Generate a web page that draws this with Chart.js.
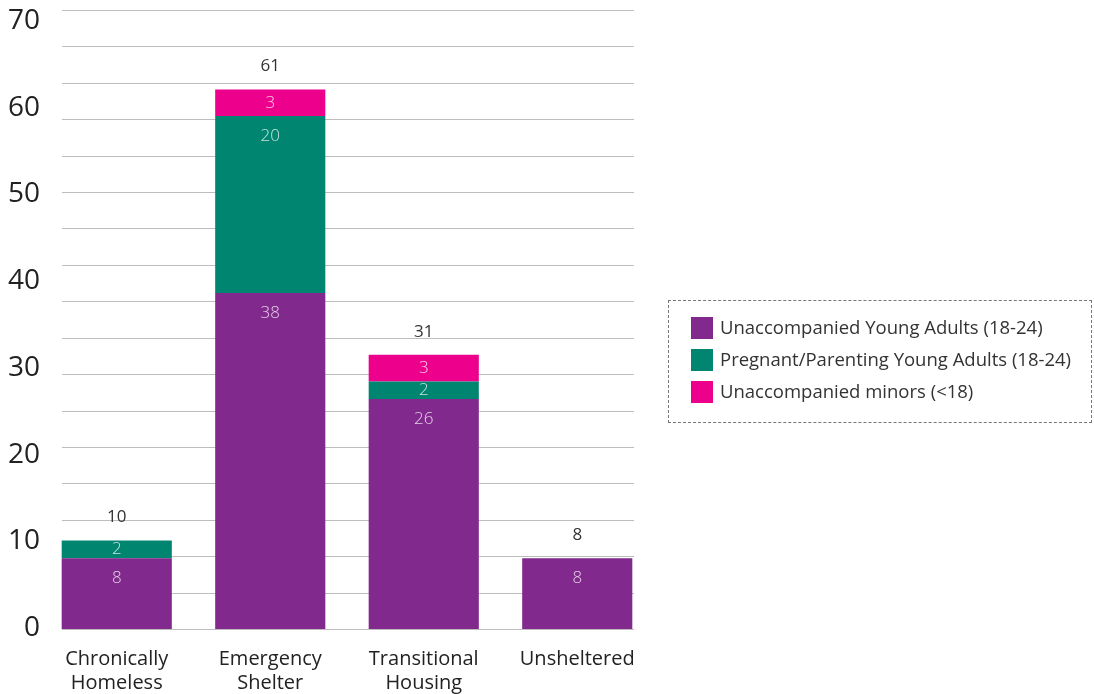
<!DOCTYPE html>
<html>
<head>
<meta charset="utf-8">
<script src="https://cdn.jsdelivr.net/npm/chart.js@4/dist/chart.umd.min.js"></script>
<style>
  html, body { margin: 0; padding: 0; background: #fff; }
  #wrap { position: relative; width: 1094px; height: 694px; }
  #legend {
    position: absolute; left: 668px; top: 300px; width: 422px; height: 121px;
    border: 1px dashed #777; box-sizing: content-box;
    font-family: "Open Sans", Lato, sans-serif; font-size: 18.5px; color: #333;
  }
  .item { position: absolute; left: 22px; height: 24px; line-height: 24px; white-space: nowrap; }
  .item span { display: inline-block; width: 22px; height: 22px; vertical-align: middle; margin-right: 7px; position: relative; top: -1px; }
</style>
</head>
<body>
<div id="wrap">
  <canvas id="chart" width="1094" height="694"></canvas>
  <div id="legend"></div>
</div>
<script>
// Data
const categories = [['Chronically', 'Homeless'], ['Emergency', 'Shelter'], ['Transitional', 'Housing'], ['Unsheltered']];
const youngAdults = [8, 38, 26, 8];
const parenting = [2, 20, 2, 0];
const minors = [0, 3, 3, 0];
const totals = [10, 61, 31, 8];
const yTicks = [0, 10, 20, 30, 40, 50, 60, 70];

const seriesNames = ['Unaccompanied Young Adults (18-24)', 'Pregnant/Parenting Young Adults (18-24)', 'Unaccompanied minors (<18)'];
const colors = ['#82298d', '#008670', '#ec008c'];
const FONT = '"Open Sans", Lato, sans-serif';

// html legend in the dashed box
const legend = document.getElementById('legend');
seriesNames.forEach((name, i) => {
  const d = document.createElement('div');
  d.className = 'item';
  d.style.top = (14 + i * 32) + 'px';
  d.innerHTML = '<span style="background:' + colors[i] + '"></span>' + name.replace('<', '&lt;');
  legend.appendChild(d);
});

// gridlines every 70/17 units, drawn between x=62 and x=634
const gridPlugin = {
  id: 'gridPlugin',
  beforeDatasetsDraw(chart) {
    const ctx = chart.ctx, y = chart.scales.y;
    ctx.save();
    ctx.strokeStyle = '#bdbdbd';
    ctx.lineWidth = 1;
    for (let k = 0; k <= 17; k++) {
      const py = Math.round(y.getPixelForValue(k * 70 / 17)) + 0.5;
      ctx.beginPath();
      ctx.moveTo(62, py);
      ctx.lineTo(634, py);
      ctx.stroke();
    }
    ctx.restore();
  }
};

// value labels inside segments and totals above bars
const labelPlugin = {
  id: 'labelPlugin',
  afterDatasetsDraw(chart) {
    const ctx = chart.ctx;
    ctx.save();
    ctx.textAlign = 'center';
    ctx.textBaseline = 'middle';
    ctx.font = '300 17px ' + FONT;
    chart.data.datasets.forEach((ds, di) => {
      chart.getDatasetMeta(di).data.forEach((bar, i) => {
        const v = ds.data[i];
        if (!v) return;
        const h = bar.base - bar.y;
        ctx.fillStyle = 'rgba(255,255,255,0.78)';
        ctx.fillText(String(v), bar.x, bar.y + Math.min(h / 2, 20));
      });
    });
    ctx.fillStyle = '#333';
    ctx.font = '17px ' + FONT;
    const meta = chart.getDatasetMeta(0);
    totals.forEach((t, i) => {
      const x = meta.data[i].x;
      const py = chart.scales.y.getPixelForValue(t);
      ctx.fillText(String(t), x, py - 23);
    });
    ctx.restore();
  }
};

new Chart(document.getElementById('chart'), {
  type: 'bar',
  data: {
    labels: categories,
    datasets: [
      { label: seriesNames[0], data: youngAdults, backgroundColor: colors[0] },
      { label: seriesNames[1], data: parenting, backgroundColor: colors[1] },
      { label: seriesNames[2], data: minors, backgroundColor: colors[2] }
    ]
  },
  options: {
    responsive: false,
    animation: false,
    layout: { padding: { left: 0, right: 440, top: 10, bottom: 0 } },
    categoryPercentage: 1,
    barPercentage: 0.7175,
    plugins: { legend: { display: false }, tooltip: { enabled: false } },
    scales: {
      x: {
        stacked: true,
        grid: { display: false },
        border: { display: false },
        ticks: { color: '#222', font: { family: FONT, size: 20, lineHeight: 1.2 }, padding: 10, maxRotation: 0 },
        afterFit(s) { s.height = 65; s.paddingLeft = 0; s.paddingRight = 0; }
      },
      y: { stacked: true, display: false, min: 0, max: 70 },
      yl: {
        position: 'left',
        min: -0.115,
        max: 71.27,
        grid: { display: false },
        border: { display: false },
        ticks: { color: '#222', font: { family: FONT, size: 28 }, padding: -8 },
        afterBuildTicks(s) { s.ticks = yTicks.map(v => ({ value: v })); },
        afterFit(s) { s.width = 40; s.paddingTop = 0; s.paddingBottom = 0; }
      }
    }
  },
  plugins: [gridPlugin, labelPlugin]
});
</script>
</body>
</html>
